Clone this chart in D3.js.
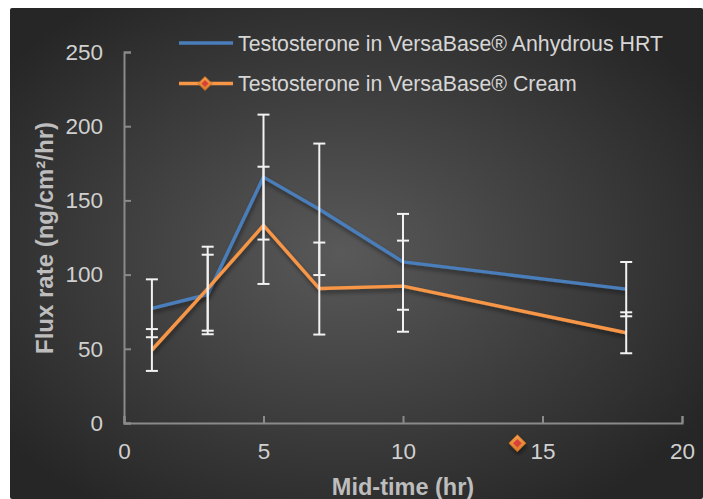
<!DOCTYPE html>
<html lang="en">
<head>
<meta charset="UTF-8">
<title>Flux rate vs mid-time</title>
<script src="https://d3js.org/d3.v7.min.js"></script>
<style>
  body { margin: 0; background: #fff; }
  svg { display: block; font-family: "Liberation Sans", Arial, sans-serif; }
</style>
</head>
<body>
<div id="chart"></div>
<script>
// data
const midTime = [1, 3, 5, 7, 10, 18];
const anhydrous = [77.3, 86.6, 165.7, 144.0, 108.6, 90.2];
const anhydrousErr = [19.5, 26.8, 42.1, 44.3, 32.3, 18.3];
const cream = [49.2, 90.5, 133.2, 90.6, 92.2, 60.8];
const creamErr = [14.1, 28.3, 39.5, 31.0, 30.7, 13.8];
const xTicks = [0, 5, 10, 15, 20];
const yTicks = [0, 50, 100, 150, 200, 250];
// lone diamond marker that sits below the axis in the original
const strayMarker = [{ x: 14.1, y: -13.6 }];

const W = 703, H = 499;
const margin = { left: 124, right: 21, top: 52, bottom: 76 };

const svg = d3.select("#chart").append("svg")
  .attr("width", W).attr("height", H);

const defs = svg.append("defs");
const grad = defs.append("radialGradient").attr("id", "bg")
  .attr("cx", "48%").attr("cy", "50%").attr("r", "62%");
grad.append("stop").attr("offset", "0%").attr("stop-color", "#595959");
grad.append("stop").attr("offset", "100%").attr("stop-color", "#262626");

const shadow = defs.append("filter").attr("id", "shadow")
  .attr("x", "-10%").attr("y", "-10%").attr("width", "120%").attr("height", "130%");
shadow.append("feDropShadow").attr("dx", 1).attr("dy", 3).attr("stdDeviation", 2)
  .attr("flood-color", "#000").attr("flood-opacity", 0.45);

const diamondGrad = defs.append("linearGradient").attr("id", "dia")
  .attr("x1", 0).attr("y1", 0).attr("x2", 0).attr("y2", 1);
diamondGrad.append("stop").attr("offset", "0%").attr("stop-color", "#f4a04a");
diamondGrad.append("stop").attr("offset", "100%").attr("stop-color", "#d9782a");

svg.append("rect")
  .attr("x", 10).attr("y", 8).attr("width", W - 10).attr("height", H - 8)
  .attr("rx", 2).attr("fill", "url(#bg)");

const x = d3.scaleLinear().domain([0, 20]).range([margin.left, W - margin.right]);
const y = d3.scaleLinear().domain([0, 250]).range([H - margin.bottom, margin.top]);

// axes
const axisColor = "#8a8a8a";
const gx = svg.append("g")
  .attr("transform", `translate(0,${y(0)})`)
  .call(d3.axisBottom(x).tickValues(xTicks).tickSizeInner(-7).tickSizeOuter(-7).tickPadding(20));
const gy = svg.append("g")
  .attr("transform", `translate(${x(0)},0)`)
  .call(d3.axisLeft(y).tickValues(yTicks).tickSizeInner(-7).tickSizeOuter(-7).tickPadding(21));

[gx, gy].forEach(g => {
  g.select(".domain").attr("stroke", axisColor).attr("stroke-width", 2);
  g.selectAll(".tick line").attr("stroke", axisColor).attr("stroke-width", 2);
  g.selectAll(".tick text").attr("fill", "#d0d0d0").attr("font-size", 22.5)
    .attr("font-family", "Liberation Sans, Arial, sans-serif");
});
gx.selectAll(".tick text").attr("dy", "0.71em");

svg.append("text")
  .attr("x", (x(0) + x(20)) / 2).attr("y", 495)
  .attr("text-anchor", "middle").attr("font-size", 23.5).attr("font-weight", "bold")
  .attr("fill", "#bdbdbd").text("Mid-time (hr)");

svg.append("text")
  .attr("transform", `translate(53,${238}) rotate(-90)`)
  .attr("text-anchor", "middle").attr("font-size", 24).attr("font-weight", "bold")
  .attr("fill", "#bdbdbd")
  .text("Flux rate (ng/cm\u00B2/hr)");

const series = [
  { vals: anhydrous, err: anhydrousErr, color: "#4a7ebb" },
  { vals: cream, err: creamErr, color: "#f79646" }
];

const line = d3.line().x(d => x(d[0])).y(d => y(d[1]));

series.forEach(s => {
  const pts = midTime.map((t, i) => [t, s.vals[i]]);
  svg.append("path")
    .datum(pts)
    .attr("d", line)
    .attr("fill", "none")
    .attr("stroke", s.color)
    .attr("stroke-width", 3.4)
    .attr("stroke-linejoin", "round")
    .attr("filter", "url(#shadow)");
});

// error bars on top
series.forEach(s => {
  const g = svg.append("g").attr("stroke", "#f2f2f2").attr("stroke-width", 2);
  midTime.forEach((t, i) => {
    const hi = y(s.vals[i] + s.err[i]), lo = y(s.vals[i] - s.err[i]), cx = x(t);
    g.append("line").attr("x1", cx).attr("x2", cx).attr("y1", hi).attr("y2", lo);
    g.append("line").attr("x1", cx - 6).attr("x2", cx + 6).attr("y1", hi).attr("y2", hi);
    g.append("line").attr("x1", cx - 6).attr("x2", cx + 6).attr("y1", lo).attr("y2", lo);
  });
});

function diamond(g, cx, cy, r) {
  g.append("path")
    .attr("d", `M${cx},${cy - r}L${cx + r},${cy}L${cx},${cy + r}L${cx - r},${cy}Z`)
    .attr("fill", "url(#dia)").attr("stroke", "#c86a1e").attr("stroke-width", 0.8);
  const q = r * 0.5;
  g.append("path")
    .attr("d", `M${cx},${cy - q}L${cx + q},${cy}L${cx},${cy + q}L${cx - q},${cy}Z`)
    .attr("fill", "#d8413a");
}

const markers = svg.append("g").attr("filter", "url(#shadow)");
strayMarker.forEach(d => diamond(markers, x(d.x), y(d.y), 8.5));

// legend
const legendItems = [
  { label: "Testosterone in VersaBase\u00AE Anhydrous HRT", color: "#4a7ebb", marker: false },
  { label: "Testosterone in VersaBase\u00AE Cream", color: "#f79646", marker: true }
];
const lg = svg.append("g");
legendItems.forEach((d, i) => {
  const ly = 43 + i * 40.5;
  lg.append("line").attr("x1", 179).attr("x2", 233).attr("y1", ly).attr("y2", ly)
    .attr("stroke", d.color).attr("stroke-width", 3.4);
  if (d.marker) diamond(lg, 205, ly, 7);
  lg.append("text").attr("x", 238).attr("y", ly + 7.5)
    .attr("font-size", 21.3).attr("fill", "#d6d6d6").text(d.label);
});
</script>
</body>
</html>
